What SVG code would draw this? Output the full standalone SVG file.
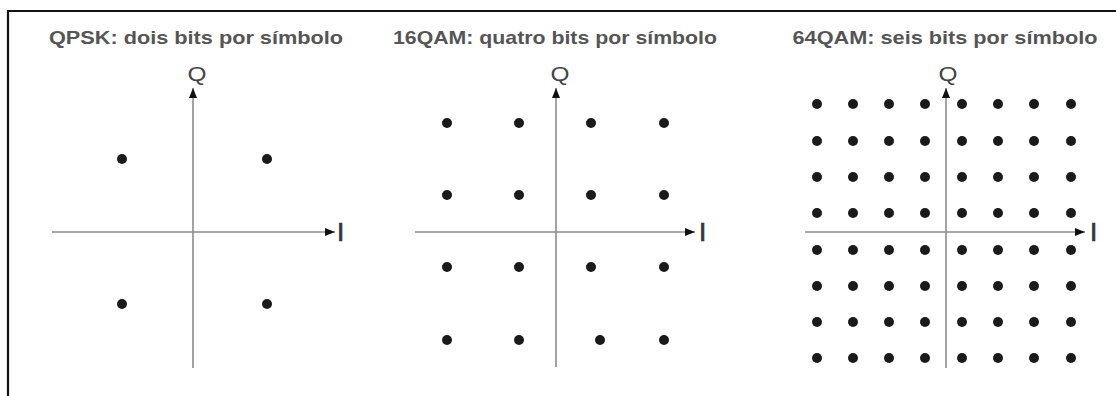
<svg xmlns="http://www.w3.org/2000/svg" width="1116" height="396" viewBox="0 0 1116 396">
<style>
.title{font-family:"Liberation Sans",Arial,sans-serif;font-weight:bold;font-size:19px;fill:#555555;text-anchor:middle}
.axl{font-family:"Liberation Sans",Arial,sans-serif;font-size:20px;fill:#444444;text-anchor:middle}
.il{font-family:"Liberation Sans",Arial,sans-serif;font-size:26px;fill:#333344;stroke:#333344;stroke-width:0.7;text-anchor:middle}
.ax{stroke:#8c8c8c;stroke-width:1.6;fill:none}
.d{fill:#1a1a1a}
</style>
<defs>
<marker id="ah" viewBox="0 0 10 8" refX="10" refY="4" markerWidth="10" markerHeight="8" markerUnits="userSpaceOnUse" orient="auto">
<path d="M0,0 L10,4 L0,8 Z" fill="#111111"/>
</marker>
</defs>
<rect width="1116" height="396" fill="#ffffff"/>
<path d="M8,396 V11 H1116" fill="none" stroke="#111111" stroke-width="2.2"/>

<g id="qpsk">
<text class="title" x="196" y="44" textLength="294" lengthAdjust="spacingAndGlyphs">QPSK: dois bits por símbolo</text>
<text class="axl" x="197" y="81" textLength="19" lengthAdjust="spacingAndGlyphs">Q</text>
<text class="il" x="340.5" y="241">I</text>
<circle class="d" cx="122" cy="159" r="5"/>
<circle class="d" cx="267" cy="159" r="5"/>
<circle class="d" cx="122" cy="304" r="5"/>
<circle class="d" cx="267" cy="304" r="5"/>
</g>

<g id="qam16">
<text class="title" x="555" y="44" textLength="324" lengthAdjust="spacingAndGlyphs">16QAM: quatro bits por símbolo</text>
<text class="axl" x="560" y="81" textLength="19" lengthAdjust="spacingAndGlyphs">Q</text>
<text class="il" x="702.5" y="241">I</text>
<circle class="d" cx="447" cy="123" r="5"/><circle class="d" cx="519" cy="123" r="5"/><circle class="d" cx="591" cy="123" r="5"/><circle class="d" cx="664" cy="123" r="5"/>
<circle class="d" cx="447" cy="195" r="5"/><circle class="d" cx="519" cy="195" r="5"/><circle class="d" cx="591" cy="195" r="5"/><circle class="d" cx="664" cy="195" r="5"/>
<circle class="d" cx="447" cy="267" r="5"/><circle class="d" cx="519" cy="267" r="5"/><circle class="d" cx="591" cy="267" r="5"/><circle class="d" cx="664" cy="267" r="5"/>
<circle class="d" cx="447" cy="340" r="5"/><circle class="d" cx="519" cy="340" r="5"/><circle class="d" cx="600" cy="340" r="5"/><circle class="d" cx="664" cy="340" r="5"/>
</g>

<g id="qam64">
<text class="title" x="945" y="44" textLength="305" lengthAdjust="spacingAndGlyphs">64QAM: seis bits por símbolo</text>
<text class="axl" x="948" y="81" textLength="19" lengthAdjust="spacingAndGlyphs">Q</text>
<text class="il" x="1093.5" y="241">I</text>
<g id="grid64">
<circle class="d" cx="817" cy="104" r="5"/><circle class="d" cx="853" cy="104" r="5"/><circle class="d" cx="889" cy="104" r="5"/><circle class="d" cx="925" cy="104" r="5"/><circle class="d" cx="962" cy="104" r="5"/><circle class="d" cx="998" cy="104" r="5"/><circle class="d" cx="1034" cy="104" r="5"/><circle class="d" cx="1071" cy="104" r="5"/>
<circle class="d" cx="817" cy="141" r="5"/><circle class="d" cx="853" cy="141" r="5"/><circle class="d" cx="889" cy="141" r="5"/><circle class="d" cx="925" cy="141" r="5"/><circle class="d" cx="962" cy="141" r="5"/><circle class="d" cx="998" cy="141" r="5"/><circle class="d" cx="1034" cy="141" r="5"/><circle class="d" cx="1071" cy="141" r="5"/>
<circle class="d" cx="817" cy="177" r="5"/><circle class="d" cx="853" cy="177" r="5"/><circle class="d" cx="889" cy="177" r="5"/><circle class="d" cx="925" cy="177" r="5"/><circle class="d" cx="962" cy="177" r="5"/><circle class="d" cx="998" cy="177" r="5"/><circle class="d" cx="1034" cy="177" r="5"/><circle class="d" cx="1071" cy="177" r="5"/>
<circle class="d" cx="817" cy="213" r="5"/><circle class="d" cx="853" cy="213" r="5"/><circle class="d" cx="889" cy="213" r="5"/><circle class="d" cx="925" cy="213" r="5"/><circle class="d" cx="962" cy="213" r="5"/><circle class="d" cx="998" cy="213" r="5"/><circle class="d" cx="1034" cy="213" r="5"/><circle class="d" cx="1071" cy="213" r="5"/>
<circle class="d" cx="817" cy="250" r="5"/><circle class="d" cx="853" cy="250" r="5"/><circle class="d" cx="889" cy="250" r="5"/><circle class="d" cx="925" cy="250" r="5"/><circle class="d" cx="962" cy="250" r="5"/><circle class="d" cx="998" cy="250" r="5"/><circle class="d" cx="1034" cy="250" r="5"/><circle class="d" cx="1071" cy="250" r="5"/>
<circle class="d" cx="817" cy="286" r="5"/><circle class="d" cx="853" cy="286" r="5"/><circle class="d" cx="889" cy="286" r="5"/><circle class="d" cx="925" cy="286" r="5"/><circle class="d" cx="962" cy="286" r="5"/><circle class="d" cx="998" cy="286" r="5"/><circle class="d" cx="1034" cy="286" r="5"/><circle class="d" cx="1071" cy="286" r="5"/>
<circle class="d" cx="817" cy="322" r="5"/><circle class="d" cx="853" cy="322" r="5"/><circle class="d" cx="889" cy="322" r="5"/><circle class="d" cx="925" cy="322" r="5"/><circle class="d" cx="962" cy="322" r="5"/><circle class="d" cx="998" cy="322" r="5"/><circle class="d" cx="1034" cy="322" r="5"/><circle class="d" cx="1071" cy="322" r="5"/>
<circle class="d" cx="817" cy="358" r="5"/><circle class="d" cx="853" cy="358" r="5"/><circle class="d" cx="889" cy="358" r="5"/><circle class="d" cx="925" cy="358" r="5"/><circle class="d" cx="962" cy="358" r="5"/><circle class="d" cx="998" cy="358" r="5"/><circle class="d" cx="1034" cy="358" r="5"/><circle class="d" cx="1071" cy="358" r="5"/>
</g>
</g>

<g id="connectors">
<line class="ax" x1="193" y1="368" x2="193" y2="88" marker-end="url(#ah)"/>
<line class="ax" x1="52" y1="232" x2="335" y2="232" marker-end="url(#ah)"/>
<line class="ax" x1="556" y1="367" x2="556" y2="88" marker-end="url(#ah)"/>
<line class="ax" x1="415" y1="232" x2="695" y2="232" marker-end="url(#ah)"/>
<line class="ax" x1="946" y1="368" x2="946" y2="88" marker-end="url(#ah)"/>
<line class="ax" x1="805" y1="232" x2="1085" y2="232" marker-end="url(#ah)"/>
</g>
</svg>
